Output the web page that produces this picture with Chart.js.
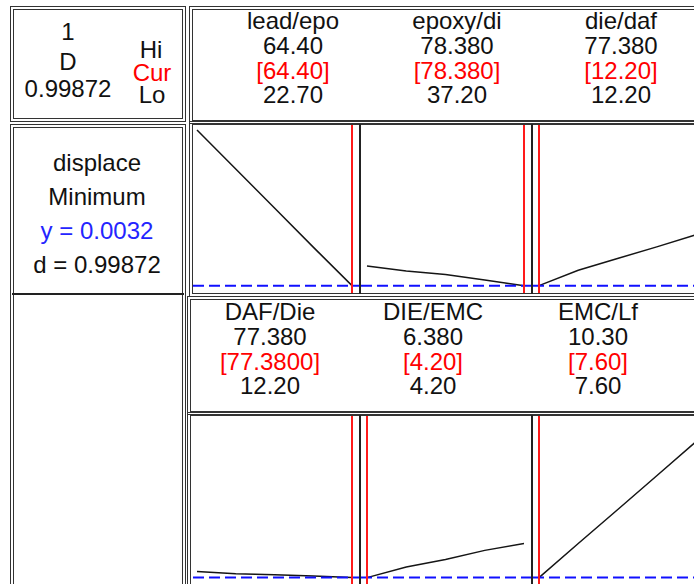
<!DOCTYPE html>
<html>
<head>
<meta charset="utf-8">
<script src="https://cdn.jsdelivr.net/npm/chart.js@4.4.0/dist/chart.umd.min.js"></script>
<style>
  body { margin: 0; background: #fff; }
  #sheet { position: relative; width: 694px; height: 584px; overflow: hidden; font-family: 'Liberation Sans', Arial, sans-serif; }
  .box { position: absolute; box-sizing: border-box; border: 4px double #333; }
  .txt { position: absolute; font-size: 24px; line-height: 24px; white-space: nowrap; color: #111; transform: translateX(-50%); }
  .cur { color: #ff0000; }
  .target { color: #2424ff; }
  .rule { position: absolute; background: #222; }
  canvas { position: absolute; }
</style>
</head>
<body>
<div id="sheet"></div>
<script>
// factor settings of the optimizer
const factorNames = ['lead/epo', 'epoxy/di', 'die/daf', 'DAF/Die', 'DIE/EMC', 'EMC/Lf'];
const hiLabels = ['64.40', '78.380', '77.380', '77.380', '6.380', '10.30'];
const curLabels = ['64.40', '78.380', '12.20', '77.3800', '4.20', '7.60'];
const loLabels = ['22.70', '37.20', '12.20', '12.20', '4.20', '7.60'];

// predicted displace at five evenly spaced settings, Lo -> Hi
const displaceCurves = [
  [0.0710, 0.0540, 0.0370, 0.0200, 0.0032],
  [0.0118, 0.0096, 0.0081, 0.0057, 0.0032],
  [0.0032, 0.0099, 0.0150, 0.0201, 0.0254],
  [0.0058, 0.0049, 0.0044, 0.0039, 0.0032],
  [0.0032, 0.0078, 0.0110, 0.0150, 0.0180],
  [0.0032, 0.0180, 0.0326, 0.0473, 0.0621]
];
const responseName = 'displace';
const goal = 'Minimum';
const optimumY = 0.0032;
const desirability = '0.99872';
const yRange = [0, 0.0732];

const sheet = document.getElementById('sheet');

function box(left, top, width, height) {
  const d = document.createElement('div');
  d.className = 'box';
  Object.assign(d.style, { left: left + 'px', top: top + 'px', width: width + 'px', height: height + 'px' });
  sheet.appendChild(d);
}

function text(x, baseline, str, cls) {
  const d = document.createElement('div');
  d.className = 'txt' + (cls ? ' ' + cls : '');
  d.textContent = str;
  d.style.left = x + 'px';
  d.style.top = (baseline - 20.3) + 'px';
  sheet.appendChild(d);
}

function rule(left, top, width, height) {
  const d = document.createElement('div');
  d.className = 'rule';
  Object.assign(d.style, { left: left + 'px', top: top + 'px', width: width + 'px', height: height + 'px' });
  sheet.appendChild(d);
}

// frames: left column, then the factor column blocks
box(10, 6, 176, 116);
box(10, 124, 176, 500);
rule(12, 293, 172, 2);
box(189, 6, 520, 118);
box(189, 121, 520, 176);
box(187, 296, 520, 119);
box(187, 412, 520, 200);

// composite desirability
text(68, 40, '1');
text(68, 70, 'D');
text(68, 97, desirability);
text(151, 58, 'Hi');
text(152, 81.5, 'Cur', 'cur');
text(152, 103.5, 'Lo');

// response block
text(97, 171, responseName);
text(97, 205, goal);
text(97, 239, 'y = ' + optimumY.toFixed(4), 'target');
text(97, 273, 'd = ' + desirability);

// factor headers
const headerCols = [[293, 457, 621], [270, 433, 598]];
const headerBase = [29, 320];
factorNames.forEach((name, i) => {
  const row = Math.floor(i / 3), col = i % 3;
  const x = headerCols[row][col], b = headerBase[row];
  text(x, b, name);
  text(x, b + 25.5, hiLabels[i]);
  text(x, b + 50.5, '[' + curLabels[i] + ']', 'cur');
  text(x, b + 74.5, loLabels[i]);
});

// marker lines: optimum response (blue dashed) and current setting (red)
const markers = {
  id: 'markers',
  afterDatasetsDraw(chart, args, opts) {
    const ctx = chart.ctx;
    const y = chart.scales.y.getPixelForValue(opts.target);
    const x = chart.scales.x.getPixelForValue(opts.cur);
    ctx.save();
    ctx.strokeStyle = '#1010ff';
    ctx.lineWidth = 2;
    ctx.setLineDash([11, 5]);
    ctx.beginPath();
    ctx.moveTo(0, y);
    ctx.lineTo(chart.width, y);
    ctx.stroke();
    ctx.setLineDash([]);
    ctx.strokeStyle = '#ff1a1a';
    ctx.beginPath();
    ctx.moveTo(x, 0);
    ctx.lineTo(x, chart.height);
    ctx.stroke();
    ctx.restore();
  }
};

const colLeft = [193, 361, 533];
const colWidth = [166, 170, 170];
const rowTop = [125, 416];
const rowHeight = [168, 169];

factorNames.forEach((name, i) => {
  const row = Math.floor(i / 3), col = i % 3;
  const lo = parseFloat(loLabels[i]), hi = parseFloat(hiLabels[i]);
  const cur = parseFloat(curLabels[i]);
  const ys = displaceCurves[i];
  const pts = ys.map((v, k) => ({ x: lo + (hi - lo) * k / (ys.length - 1), y: v }));

  const cv = document.createElement('canvas');
  cv.width = colWidth[col];
  cv.height = rowHeight[row];
  cv.style.left = colLeft[col] + 'px';
  cv.style.top = rowTop[row] + 'px';
  sheet.appendChild(cv);

  new Chart(cv, {
    type: 'line',
    data: {
      datasets: [{
        label: name,
        data: pts,
        borderColor: '#151515',
        borderWidth: 1.5,
        pointRadius: 0,
        tension: 0,
        clip: false
      }]
    },
    options: {
      responsive: false,
      animation: false,
      devicePixelRatio: 1,
      events: [],
      layout: { padding: { left: col === 0 ? 4 : 6, right: 7, top: 0, bottom: 0 } },
      plugins: {
        legend: { display: false },
        tooltip: { enabled: false },
        markers: { target: optimumY, cur: cur }
      },
      scales: {
        x: { type: 'linear', min: lo, max: hi, display: false },
        y: { min: yRange[0], max: yRange[1], display: false }
      }
    },
    plugins: [markers]
  });
});

// column separators inside the plot rows
[359, 531].forEach(x => {
  rule(x, 124, 2, 170);
  rule(x, 415, 2, 170);
});
</script>
</body>
</html>
